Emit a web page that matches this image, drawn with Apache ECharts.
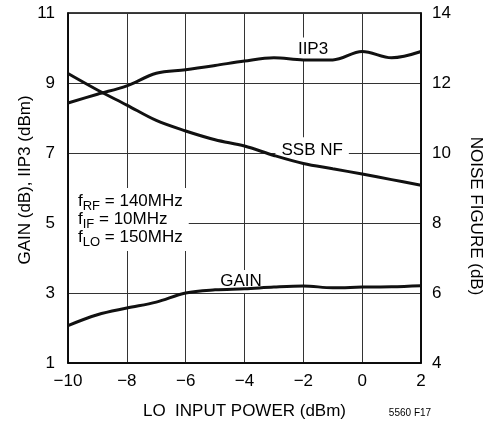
<!DOCTYPE html>
<html>
<head>
<meta charset="utf-8">
<script src="https://cdn.jsdelivr.net/npm/echarts@6/dist/echarts.min.js"></script>
<style>
html,body{margin:0;padding:0;background:#fff;}
#chart{width:489px;height:428px;}
</style>
</head>
<body>
<div id="chart"></div>
<script>
// ---- data ----
const xValues = [-10, -9, -8, -7, -6, -5, -4, -3, -2, -1, 0, 1, 2];
const iip3 = [8.43, 8.68, 8.92, 9.28, 9.38, 9.50, 9.63, 9.72, 9.66, 9.66, 9.90, 9.72, 9.90];
const gain = [2.07, 2.38, 2.57, 2.74, 3.00, 3.09, 3.12, 3.17, 3.20, 3.15, 3.17, 3.18, 3.21];
const ssbNF = [12.27, 11.80, 11.37, 10.93, 10.63, 10.38, 10.20, 9.93, 9.70, 9.55, 9.40, 9.24, 9.08];
const xTicks = [-10, -8, -6, -4, -2, 0, 2];
const leftTicks = [1, 3, 5, 7, 9, 11];
const rightTicks = [4, 6, 8, 10, 12, 14];

const FONT = "'Liberation Sans Narrow', 'Liberation Sans', Arial, sans-serif";
const pair = (xs, ys) => xs.map((x, i) => [x, ys[i]]);
const fmtMinus = v => String(v).replace('-', '\u2212');

const chart = echarts.init(document.getElementById('chart'), null, {renderer: 'canvas'});
const lineStyle = {color: '#111', width: 3};
chart.setOption({
  animation: false,
  backgroundColor: '#fff',
  grid: {left: 68, right: 68, top: 13, bottom: 65, show: true, borderColor: '#000', borderWidth: 1.5, backgroundColor: 'transparent'},
  xAxis: {
    type: 'value', min: xTicks[0], max: xTicks[xTicks.length - 1], interval: 2,
    axisLine: {show: true, onZero: false, lineStyle: {color: '#000', width: 1.5}},
    axisTick: {show: false},
    splitLine: {show: true, lineStyle: {color: '#333', width: 1}},
    axisLabel: {color: '#000', fontSize: 17, fontFamily: FONT, margin: 10, formatter: fmtMinus}
  },
  yAxis: [
    {
      type: 'value', position: 'left', min: leftTicks[0], max: leftTicks[leftTicks.length - 1], interval: 1,
      axisLine: {show: true, onZero: false, lineStyle: {color: '#000', width: 1.5}},
      axisTick: {show: false},
      splitLine: {show: false},
      axisLabel: {color: '#000', fontSize: 17, fontFamily: FONT, margin: 13, customValues: leftTicks}
    },
    {
      type: 'value', position: 'right', min: rightTicks[0], max: rightTicks[rightTicks.length - 1], interval: 2,
      axisLine: {show: true, onZero: false, lineStyle: {color: '#000', width: 1.5}},
      axisTick: {show: false},
      splitLine: {show: true, lineStyle: {color: '#333', width: 1}},
      axisLabel: {color: '#000', fontSize: 17, fontFamily: FONT, margin: 11}
    }
  ],
  series: [
    {name: 'IIP3', type: 'line', yAxisIndex: 0, smooth: 0.35, showSymbol: false, symbol: 'none', lineStyle: lineStyle, data: pair(xValues, iip3), z: 3},
    {name: 'GAIN', type: 'line', yAxisIndex: 0, smooth: 0.35, showSymbol: false, symbol: 'none', lineStyle: lineStyle, data: pair(xValues, gain), z: 3},
    {name: 'SSB NF', type: 'line', yAxisIndex: 1, smooth: 0.35, showSymbol: false, symbol: 'none', lineStyle: lineStyle, data: pair(xValues, ssbNF), z: 3}
  ]
});

const px = (x, y) => chart.convertToPixel({xAxisIndex: 0, yAxisIndex: 0}, [x, y]);
const lab = (text, x, y, pad) => {
  const p = px(x, y);
  return {type: 'text', x: p[0], y: p[1], z: 1,
    style: {text: text, fill: '#000', font: '17px ' + FONT, align: 'center', verticalAlign: 'middle',
      backgroundColor: '#fff', padding: pad}};
};
const annP = px(-10, 6.0);
const gridLeftTop = px(-10, 11);
const gridRightBottom = px(2, 1);
const midY = (gridLeftTop[1] + gridRightBottom[1]) / 2;
chart.setOption({
  graphic: [
    lab('IIP3', -1.67, 9.97, [3, 2, 3, 2]),
    lab('SSB NF', -1.7, 7.09, [4, 6, 4, 6]),
    lab('GAIN', -4.12, 3.33, [3, 4, 3, 4]),
    {type: 'text', x: annP[0] + 1, y: annP[1], z: 1,
      style: {
        text: '{f|f}{s|RF}{f| = 140MHz}\n{f|f}{s|IF}{f| = 10MHz}\n{f|f}{s|LO}{f| = 150MHz}',
        fill: '#000', font: '17px ' + FONT, backgroundColor: '#fff', padding: [4, 6, 5, 9],
        rich: {
          f: {fontSize: 17, fontFamily: FONT, lineHeight: 18, fill: '#000'},
          s: {fontSize: 13, fontFamily: FONT, lineHeight: 18, padding: [10, 0, 0, 0], fill: '#000'}
        }
      }},
    {type: 'text', x: 25, y: midY - 8, rotation: Math.PI / 2, z: 1,
      style: {text: 'GAIN (dB), IIP3 (dBm)', fill: '#000', font: '17px ' + FONT, align: 'center', verticalAlign: 'middle'}},
    {type: 'text', x: 476, y: midY + 28, rotation: -Math.PI / 2, z: 1,
      style: {text: 'NOISE FIGURE (dB)', fill: '#000', font: '17px ' + FONT, align: 'center', verticalAlign: 'middle'}},
    {type: 'text', x: (gridLeftTop[0] + gridRightBottom[0]) / 2, y: 411, z: 1,
      style: {text: 'LO  INPUT POWER (dBm)', fill: '#000', font: '17px ' + FONT, align: 'center', verticalAlign: 'middle'}},
    {type: 'text', x: 410, y: 413, z: 1,
      style: {text: '5560 F17', fill: '#000', font: '10px ' + FONT, align: 'center', verticalAlign: 'middle'}}
  ]
});
</script>
</body>
</html>
